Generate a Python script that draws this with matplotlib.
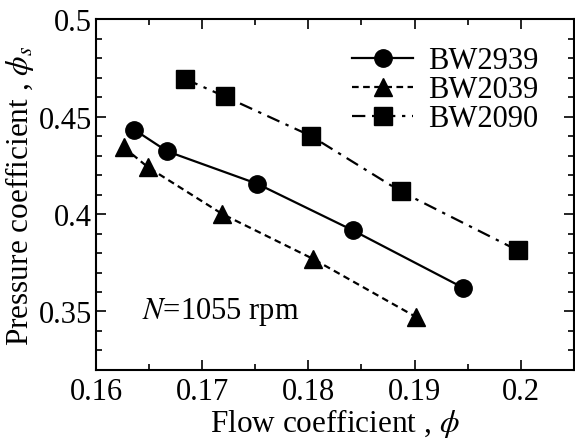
import matplotlib
matplotlib.use("Agg")
import matplotlib.pyplot as plt
from matplotlib.ticker import MultipleLocator, FixedLocator

plt.rcParams["font.family"] = ["Liberation Serif", "DejaVu Serif"]
plt.rcParams["mathtext.fontset"] = "stix"

# data
phi_bw2939 = [0.1636, 0.1667, 0.1752, 0.1842, 0.1946]
psi_bw2939 = [0.4433, 0.4322, 0.4155, 0.3916, 0.3621]

phi_bw2039 = [0.1626, 0.1649, 0.1719, 0.1804, 0.1901]
psi_bw2039 = [0.4343, 0.4240, 0.4000, 0.3771, 0.3473]

phi_bw2090 = [0.1684, 0.1721, 0.1802, 0.1887, 0.1997]
psi_bw2090 = [0.4693, 0.4604, 0.4402, 0.4116, 0.3814]

xticks = [0.16, 0.17, 0.18, 0.19, 0.20]
xtick_labels = ["0.16", "0.17", "0.18", "0.19", "0.2"]
yticks = [0.35, 0.40, 0.45, 0.50]
ytick_labels = ["0.35", "0.4", "0.45", "0.5"]

fig = plt.figure(figsize=(5.75, 4.39), dpi=100)
ax = fig.add_axes([0.167, 0.155, 0.831, 0.799])

ax.plot(phi_bw2939, psi_bw2939, color="black", lw=1.6, ls="-",
        marker="o", ms=12.5, label="BW2939")
ax.plot(phi_bw2039, psi_bw2039, color="black", lw=1.6, ls=(0, (3, 2)),
        marker="^", ms=12.5, label="BW2039")
ax.plot(phi_bw2090, psi_bw2090, color="black", lw=1.6, ls=(0, (6, 3, 1.5, 3)),
        marker="s", ms=13.5, label="BW2090")

ax.set_xlim(0.16, 0.205)
ax.set_ylim(0.32, 0.5)

ax.xaxis.set_major_locator(FixedLocator(xticks))
ax.set_xticklabels(xtick_labels)
ax.xaxis.set_minor_locator(MultipleLocator(0.005))
ax.yaxis.set_major_locator(FixedLocator(yticks))
ax.set_yticklabels(ytick_labels)
ax.yaxis.set_minor_locator(MultipleLocator(0.01))

ax.tick_params(which="both", direction="in", top=True, right=True,
               labelsize=22, width=1.2)
ax.tick_params(which="major", length=7)
ax.tick_params(axis="x", which="major", pad=5)
ax.tick_params(axis="y", which="major", pad=3)
ax.tick_params(which="minor", length=4)
for s in ax.spines.values():
    s.set_linewidth(1.5)

ax.set_xlabel(r"Flow coefficient , $\phi$", fontsize=22.5, labelpad=0)
ax.set_ylabel(r"Pressure coefficient , $\phi_s$", fontsize=22.5, labelpad=2)

ax.text(0.1643, 0.35, r"$\mathit{N}$=1055 rpm", fontsize=22,
        ha="left", va="center")

ax.legend(loc="upper right", bbox_to_anchor=(0.965, 0.975), frameon=False,
          fontsize=22, handlelength=2.0, handletextpad=0.5,
          labelspacing=0.0, borderaxespad=0.2)

fig.savefig("out.png", dpi=100)
